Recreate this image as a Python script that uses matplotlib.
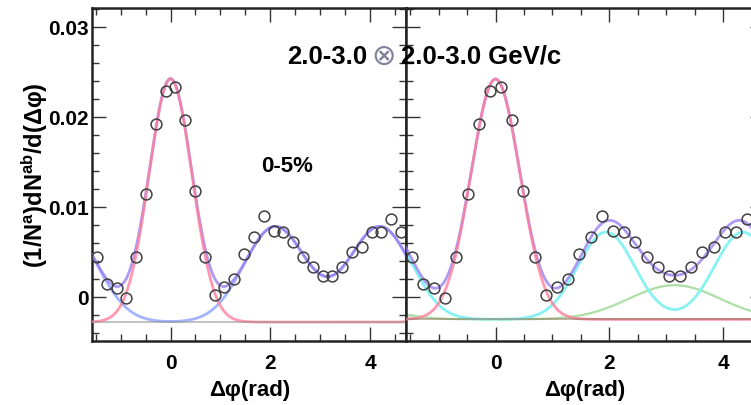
import numpy as np
import matplotlib
matplotlib.use("Agg")
import matplotlib.pyplot as plt

plt.rcParams["font.family"] = ["Liberation Sans", "DejaVu Sans"]
plt.rcParams["font.weight"] = "bold"
plt.rcParams["mathtext.fontset"] = "custom"
plt.rcParams["mathtext.rm"] = "Liberation Sans:bold"
plt.rcParams["mathtext.it"] = "Liberation Sans:bold"
plt.rcParams["mathtext.bf"] = "Liberation Sans:bold"
plt.rcParams["mathtext.default"] = "rm"

# --- measured pair yields per trigger (0-5% central, 2.0-3.0 x 2.0-3.0 GeV/c)
dphi = [-1.472, -1.276, -1.080, -0.884, -0.687, -0.491, -0.295, -0.098,
        0.098, 0.295, 0.491, 0.687, 0.884, 1.080, 1.276, 1.473,
        1.669, 1.865, 2.062, 2.258, 2.454, 2.651, 2.847, 3.043,
        3.240, 3.436, 3.632, 3.829, 4.025, 4.221, 4.418, 4.614]
yield_pair = [0.0044, 0.0014, 0.0010, -0.0001, 0.0044, 0.0114, 0.0192, 0.0229,
              0.0233, 0.0196, 0.0118, 0.0044, 0.0002, 0.0011, 0.0020, 0.0048,
              0.0066, 0.0090, 0.0073, 0.0072, 0.0061, 0.0044, 0.0033, 0.0023,
              0.0023, 0.0033, 0.0050, 0.0055, 0.0072, 0.0072, 0.0086, 0.0072]

# --- fit parameters (pedestal, near-side Gaussian, away-side shapes)
ped_left = -0.0028
ped_right = -0.0025
near_amp = 0.0270
near_sigma = 0.43

# left fit: away side as two Gaussians displaced from pi
away_amp_left = 0.0106
away_shift_left = 1.05
away_sigma_left = 0.62

# right fit: shoulder (two displaced Gaussians) + head (Gaussian at pi)
shoulder_amp = 0.0097
shoulder_shift = 1.20
shoulder_sigma = 0.50
head_amp = 0.0038
head_sigma = 0.80

xticks = [0, 2, 4]
yticks = [0, 0.01, 0.02, 0.03]
ytick_labels = ["0", "0.01", "0.02", "0.03"]

xlo, xhi = -np.pi / 2, 3 * np.pi / 2
ylo, yhi = -0.0049, 0.0321


def gauss_periodic(x, mu, amp, sig):
    out = np.zeros_like(x)
    for k in (-1, 0, 1):
        out += amp * np.exp(-(x - mu + 2 * np.pi * k) ** 2 / (2 * sig ** 2))
    return out


x = np.linspace(xlo, xhi, 600)

W, H = 751, 406
fig = plt.figure(figsize=(W / 100, H / 100), dpi=100)

ax_l = fig.add_axes([92 / W, (H - 342) / H, 314 / W, 333 / H])
ax_r = fig.add_axes([406 / W, (H - 342) / H, 358 / W, 333 / H])

pink = "#ff7f9c"
purple = "#9a80f0"
blue = "#93a8ff"
cyan = "#86f2f2"
green = "#ace0a6"

# left panel curves
near_l = gauss_periodic(x, 0.0, near_amp, near_sigma)
away_l = (gauss_periodic(x, np.pi - away_shift_left, away_amp_left, away_sigma_left)
          + gauss_periodic(x, np.pi + away_shift_left, away_amp_left, away_sigma_left))
ax_l.plot(x, ped_left + away_l, color=blue, lw=2.0, alpha=0.85, zorder=2)
ax_l.plot(x, ped_left + near_l + away_l, color=purple, lw=2.0, alpha=0.8, zorder=3)
ax_l.plot(x, ped_left + near_l, color=pink, lw=2.0, alpha=0.8, zorder=4)
ax_l.axhline(ped_left, color="#909090", lw=1.4, alpha=0.55, zorder=4.5)

# right panel curves
near_r = gauss_periodic(x, 0.0, near_amp - 0.0003, near_sigma)
shoulder = (gauss_periodic(x, np.pi - shoulder_shift, shoulder_amp, shoulder_sigma)
            + gauss_periodic(x, np.pi + shoulder_shift, shoulder_amp, shoulder_sigma))
head = gauss_periodic(x, np.pi, head_amp, head_sigma)
ax_r.plot(x, ped_right + head, color=green, lw=1.6, zorder=2)
ax_r.plot(x, ped_right + shoulder, color=cyan, lw=2.0, zorder=2)
ax_r.plot(x, ped_right + near_r + shoulder + head, color=purple, lw=2.0, alpha=0.8, zorder=3)
ax_r.plot(x, ped_right + near_r, color=pink, lw=2.0, alpha=0.8, zorder=4)
ax_r.axhline(ped_right, color="#8a6a50", lw=1.4, alpha=0.5, zorder=4.5)

for ax in (ax_l, ax_r):
    ax.plot(dphi, yield_pair, "o", mfc="none", mec="#404040", ms=7.8, mew=1.1, zorder=5)
    ax.set_xlim(xlo, xhi)
    ax.set_ylim(ylo, yhi)
    ax.set_xticks(xticks)
    ax.set_xticks(np.arange(-1.5, 4.75, 0.5), minor=True)
    ax.set_yticks(yticks)
    ax.set_yticks(np.arange(-0.004, 0.0321, 0.002), minor=True)
    ax.tick_params(which="both", direction="in", top=True, right=True,
                   color="#333333", width=1.0)
    ax.tick_params(which="major", length=10)
    ax.tick_params(which="minor", length=5)
    ax.tick_params(axis="x", which="major", labelsize=15, pad=9)
    for s in ax.spines.values():
        s.set_linewidth(1.8)
        s.set_color("#222222")
    for lab in ax.get_xticklabels():
        lab.set_fontweight("bold")

ax_l.set_yticklabels(ytick_labels, fontsize=15, fontweight="bold")
ax_l.tick_params(axis="y", which="major", pad=2)
ax_r.set_yticklabels([])

fig.text(250 / W, 1 - 391 / H, "Δφ(rad)", ha="center", va="center",
         fontsize=16, fontweight="bold")
fig.text(585 / W, 1 - 391 / H, "Δφ(rad)", ha="center", va="center",
         fontsize=16, fontweight="bold")
fig.text(35 / W, 1 - 175 / H, r"(1/N$^{a}$)dN$^{ab}$/d(Δφ)", rotation=90,
         ha="center", va="center", fontsize=17, fontweight="bold")

# momentum selection label: trigger range, product sign, partner range
fig.text(287 / W, 1 - 57 / H, "2.0-3.0", ha="left", va="center",
         fontsize=18.5, fontweight="bold")
fig.text(384 / W, 1 - 57 / H, "⊗", ha="center", va="center",
         fontsize=21, fontweight="normal", family="DejaVu Sans", color="#80809a")
fig.text(401 / W, 1 - 57 / H, "2.0-3.0 GeV/c", ha="left", va="center",
         fontsize=18.5, fontweight="bold")
fig.text(287 / W, 1 - 166 / H, "0-5%", ha="center", va="center",
         fontsize=16, fontweight="bold")

fig.savefig("out.png", dpi=100)
